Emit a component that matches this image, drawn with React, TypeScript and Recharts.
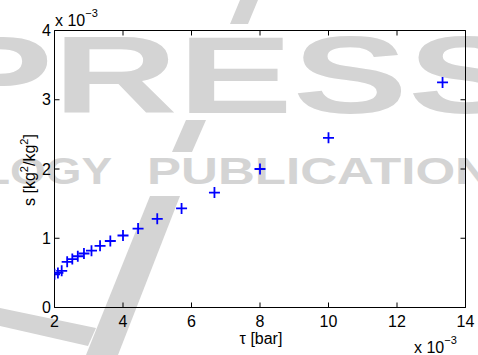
import { ScatterChart, Scatter, XAxis, YAxis, ReferenceArea } from "recharts";

// shear stress tau (x 10^-3 bar) and s (x 10^-3 kg2/kg2)
const tau = [2.0, 2.1, 2.21, 2.37, 2.52, 2.68, 2.86, 3.08, 3.33, 3.63, 4.0, 4.44, 5.0, 5.71, 6.67, 8.0, 10.0, 13.33];
const sVal = [0.48, 0.5, 0.53, 0.66, 0.7, 0.74, 0.78, 0.82, 0.89, 0.96, 1.04, 1.14, 1.28, 1.43, 1.66, 2.0, 2.45, 3.25];
const xTicks = [2, 4, 6, 8, 10, 12, 14];
const yTicks = [0, 1, 2, 3, 4];

const data = tau.map((t, i) => ({ tau: t, s: sVal[i] }));

const W = 478;
const H = 355;
// half-pixel edges keep the 1px box lines crisp
const LEFT = 54.5;
const RIGHT = 465.5;
const TOP = 30.5;
const BOTTOM = 307.5;
const FONT = "'Liberation Sans', Arial, Helvetica, sans-serif";
const WM = "#d4d4d4";

const BottomTick = (props: any) => {
  const x = props.payload.coordinate;
  return (
    <g>
      <line x1={x} x2={x} y1={BOTTOM} y2={BOTTOM - 5} stroke="#000" />
      <line x1={x} x2={x} y1={TOP} y2={TOP + 5} stroke="#000" />
      <text x={x} y={327} textAnchor="middle" fontSize={16} fontFamily={FONT} fill="#000">
        {props.payload.value}
      </text>
    </g>
  );
};

const LeftTick = (props: any) => {
  const y = props.payload.coordinate;
  return (
    <g>
      <line x1={LEFT} x2={LEFT + 5} y1={y} y2={y} stroke="#000" />
      <line x1={RIGHT} x2={RIGHT - 5} y1={y} y2={y} stroke="#000" />
      <text x={51} y={y + 5.5} textAnchor="end" fontSize={16} fontFamily={FONT} fill="#000">
        {props.payload.value}
      </text>
    </g>
  );
};

const Plus = (props: any) => {
  const { cx, cy } = props;
  return (
    <path
      d={`M${cx - 5.5},${cy}H${cx + 5.5}M${cx},${cy - 5.5}V${cy + 5.5}`}
      stroke="#0000ff"
      strokeWidth={1.8}
      fill="none"
    />
  );
};

function Backdrop() {
  return (
    <svg width={W} height={H} style={{ position: "absolute", left: 0, top: 0 }}>
      {/* publisher watermark */}
      <text x={-62} y={113} fontSize={110} fontWeight="bold" fontFamily={FONT} fill={WM}
        textLength={585} lengthAdjust="spacingAndGlyphs">PRESS</text>
      <polygon points="240,0 258,0 248,24 230,24" fill={WM} />
      <text x={-18} y={184} fontSize={36} fontWeight="bold" fontFamily={FONT} fill={WM}
        textLength={130} lengthAdjust="spacingAndGlyphs">LOGY</text>
      <text x={147} y={184} fontSize={36} fontWeight="bold" fontFamily={FONT} fill={WM}
        textLength={345} lengthAdjust="spacingAndGlyphs">PUBLICATION</text>
      <polygon points="186,120 206,120 192,152 172,152" fill={WM} />
      <polygon points="150,196 180,196 118,355 86,355" fill={WM} />
      <polygon points="0,308 0,326 88,346 96,328" fill={WM} />
    </svg>
  );
}

function Labels() {
  return (
    <svg width={W} height={H} style={{ position: "absolute", left: 0, top: 0, pointerEvents: "none" }}>
      <g fontFamily={FONT} fill="#000">
        <text x={55} y={26} fontSize={16}>x 10<tspan dy={-9} fontSize={11}>−3</tspan></text>
        <text x={414} y={353} fontSize={16}>x 10<tspan dy={-9} fontSize={11}>−3</tspan></text>
        <text x={261} y={344} fontSize={16} textAnchor="middle">τ [bar]</text>
        <text transform="translate(35,170) rotate(-90)" fontSize={16} textAnchor="middle">
          s [kg<tspan dy={-7} fontSize={11}>2</tspan>
          <tspan dy={7}>/kg</tspan>
          <tspan dy={-7} fontSize={11}>2</tspan>
          <tspan dy={7}>]</tspan>
        </text>
      </g>
    </svg>
  );
}

export default function App() {
  return (
    <div style={{ position: "absolute", left: 0, top: 0, width: W, height: H, background: "#fff" }}>
      <Backdrop />
      <div style={{ position: "absolute", left: 0, top: 0 }}>
        <ScatterChart width={W} height={H} margin={{ top: TOP, right: W - RIGHT, bottom: 0, left: 0 }}>
          <XAxis
            dataKey="tau"
            type="number"
            domain={[2, 14]}
            ticks={xTicks}
            height={H - BOTTOM}
            tickLine={false}
            axisLine={false}
            tick={<BottomTick />}
            allowDataOverflow
          />
          <YAxis
            dataKey="s"
            type="number"
            domain={[0, 4]}
            ticks={yTicks}
            width={LEFT}
            tickLine={false}
            axisLine={false}
            tick={<LeftTick />}
            allowDataOverflow
          />
          {/* axes box */}
          <ReferenceArea x1={2} x2={14} y1={0} y2={4} fill="none" stroke="#000" strokeWidth={1} />
          <Scatter data={data} shape={<Plus />} isAnimationActive={false} />
        </ScatterChart>
      </div>
      <Labels />
    </div>
  );
}
